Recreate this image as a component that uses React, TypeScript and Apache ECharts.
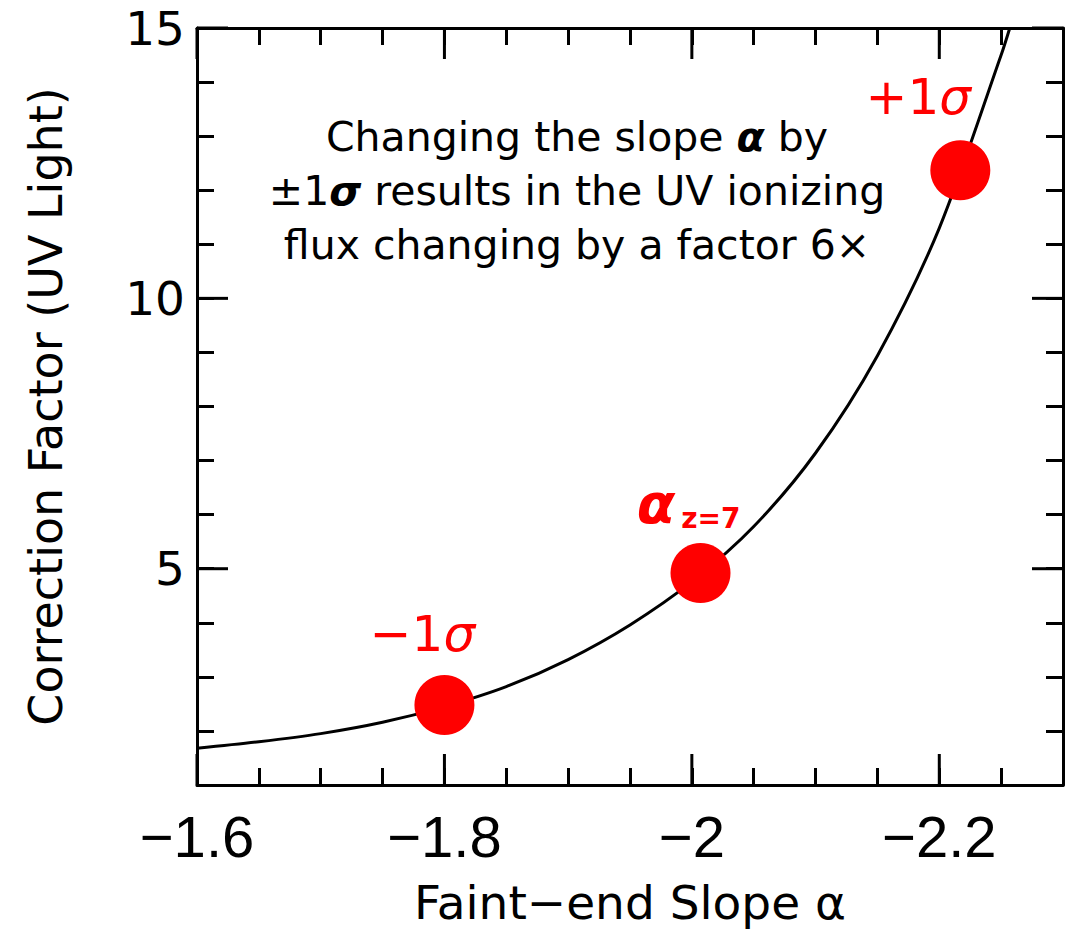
import React, { useEffect, useRef } from "react";
import * as echarts from "echarts";

// ---- data ----
const curveAlpha = [-1.6, -1.65, -1.7, -1.75, -1.8, -1.85, -1.9, -1.95, -2.0, -2.05, -2.1, -2.15, -2.2, -2.25, -2.257];
const curveFactor = [1.68, 1.8, 1.95, 2.16, 2.45, 2.82, 3.32, 3.96, 4.76, 5.78, 7.14, 8.94, 11.3, 14.5, 15.0];

const pointAlpha = [-1.8, -2.007, -2.217];
const pointFactor = [2.48, 4.92, 12.37];
const pointNames = ["−1σ", "αz=7", "+1σ"];

const xLabelValues = [-1.6, -1.8, -2.0, -2.2];
const xMajorTicks = [-1.6, -1.8, -2.0, -2.2];
const xMinorTicks = [-1.6, -1.65, -1.7, -1.75, -1.8, -1.85, -1.9, -1.95, -2.0, -2.05, -2.1, -2.15, -2.2, -2.25, -2.3];
const yLabelValues = [5, 10, 15];
const yMajorTicks = [5, 10, 15];
const yMinorTicks = [1, 2, 3, 4, 5, 6, 7, 8, 9, 10, 11, 12, 13, 14, 15];

const X_MIN = -2.3;
const X_MAX = -1.6;
const Y_MIN = 1;
const Y_MAX = 15;

const FONT = "DejaVu Sans";
const MAJOR_LEN = 31;
const MINOR_LEN = 17;

export default function App() {
  const ref = useRef<HTMLDivElement>(null);

  useEffect(() => {
    if (!ref.current) return;
    const chart = echarts.init(ref.current, null, { renderer: "svg" });

    const line = { lineStyle: { color: "#000", width: 3 } };
    const tickStyle = { stroke: "#000", lineWidth: 3 };

    const xBase = (position: string, extra: any = {}) => ({
      type: "value",
      min: X_MIN,
      max: X_MAX,
      inverse: true,
      position,
      axisLine: { show: true, onZero: false, ...line },
      axisTick: { show: true, inside: true, length: MINOR_LEN, customValues: xMinorTicks, lineStyle: { color: "#000", width: 3 } },
      axisLabel: { show: false },
      splitLine: { show: false },
      ...extra,
    });
    const yBase = (position: string, extra: any = {}) => ({
      type: "value",
      min: Y_MIN,
      max: Y_MAX,
      position,
      axisLine: { show: true, onZero: false, ...line },
      axisTick: { show: true, inside: true, length: MINOR_LEN, customValues: yMinorTicks, lineStyle: { color: "#000", width: 3 } },
      axisLabel: { show: false },
      splitLine: { show: false },
      ...extra,
    });

    const fmtX = (v: number) => {
      const a = Math.abs(v);
      const s = Math.abs(a - Math.round(a)) < 1e-9 ? String(Math.round(a)) : a.toFixed(1);
      return "−" + s;
    };

    const labelOffsets: Record<string, number[]> = {
      "−1σ": [-22, -71],
      "αz=7": [-12, -70],
      "+1σ": [-42, -73],
    };
    const labelFormats: Record<string, string> = {
      "−1σ": "{n|−1}{g|σ}",
      "αz=7": "{a|α}{s|z=7}",
      "+1σ": "{n|+1}{g|σ}",
    };

    chart.setOption({
      animation: false,
      backgroundColor: "#fff",
      grid: { left: 197, right: 12, top: 28, bottom: 148, containLabel: false },
      xAxis: [
        xBase("bottom", {
          name: "Faint−end Slope α",
          nameLocation: "middle",
          nameGap: 94,
          nameTextStyle: { fontFamily: FONT, fontSize: 47, color: "#000" },
          axisLabel: {
            show: true,
            customValues: xLabelValues,
            formatter: fmtX,
            fontFamily: "Liberation Sans Narrow, Liberation Sans",
            fontSize: 58,
            color: "#000",
            margin: 22,
          },
        }),
        xBase("top"),
      ],
      yAxis: [
        yBase("left", {
          name: "Correction Factor (UV Light)",
          nameLocation: "middle",
          nameGap: 128,
          nameTextStyle: { fontFamily: FONT, fontSize: 46, color: "#000" },
          axisLabel: {
            show: true,
            customValues: yLabelValues,
            fontFamily: FONT,
            fontSize: 47,
            color: "#000",
            margin: 12,
          },
        }),
        yBase("right"),
      ],
      series: [
        {
          type: "custom",
          xAxisIndex: 0,
          yAxisIndex: 0,
          silent: true,
          clip: false,
          encode: { x: 0, y: 1 },
          data: xMajorTicks.map((v) => [v, Y_MIN]),
          renderItem: (params: any, api: any) => {
            const v = api.value(0);
            const b = api.coord([v, Y_MIN]);
            const t = api.coord([v, Y_MAX]);
            return {
              type: "group",
              children: [
                { type: "line", shape: { x1: b[0], y1: b[1], x2: b[0], y2: b[1] - MAJOR_LEN }, style: tickStyle },
                { type: "line", shape: { x1: t[0], y1: t[1], x2: t[0], y2: t[1] + MAJOR_LEN }, style: tickStyle },
              ],
            };
          },
        },
        {
          type: "custom",
          xAxisIndex: 0,
          yAxisIndex: 0,
          silent: true,
          clip: false,
          encode: { x: 0, y: 1 },
          data: yMajorTicks.map((v) => [X_MAX, v]),
          renderItem: (params: any, api: any) => {
            const v = api.value(1);
            const l = api.coord([X_MAX, v]);
            const r = api.coord([X_MIN, v]);
            return {
              type: "group",
              children: [
                { type: "line", shape: { x1: l[0], y1: l[1], x2: l[0] + MAJOR_LEN, y2: l[1] }, style: tickStyle },
                { type: "line", shape: { x1: r[0], y1: r[1], x2: r[0] - MAJOR_LEN, y2: r[1] }, style: tickStyle },
              ],
            };
          },
        },
        {
          type: "line",
          xAxisIndex: 0,
          yAxisIndex: 0,
          data: curveAlpha.map((a, i) => [a, curveFactor[i]]),
          smooth: 0.3,
          showSymbol: false,
          symbol: "none",
          lineStyle: { color: "#000", width: 3 },
          clip: true,
          z: 2,
        },
        {
          type: "scatter",
          xAxisIndex: 0,
          yAxisIndex: 0,
          symbolSize: 60,
          itemStyle: { color: "#ff0000", opacity: 1 },
          z: 3,
          data: pointAlpha.map((a, i) => ({
            value: [a, pointFactor[i]],
            name: pointNames[i],
            label: {
              show: true,
              position: "inside",
              offset: labelOffsets[pointNames[i]],
              formatter: labelFormats[pointNames[i]],
              color: "#ff0000",
              rich: {
                n: { fontFamily: FONT, fontSize: 50, color: "#ff0000" },
                g: { fontFamily: FONT, fontSize: 50, fontStyle: "italic", color: "#ff0000" },
                a: { fontFamily: FONT, fontSize: 56, fontStyle: "italic", fontWeight: "bold", color: "#ff0000" },
                s: { fontFamily: FONT, fontSize: 28, fontWeight: "bold", color: "#ff0000", verticalAlign: "bottom", padding: [30, 0, 0, 6] },
              },
            },
          })),
        },
      ],
      graphic: [
        {
          type: "text",
          x: 577,
          y: 110,
          z: 10,
          style: {
            text:
              "Changing the slope {b|α} by\n±1{b|σ} results in the UV ionizing\nflux changing by a factor 6×",
            fontFamily: FONT,
            fontSize: 41,
            lineHeight: 54,
            fill: "#000",
            align: "center",
            verticalAlign: "top",
            rich: {
              b: { fontFamily: FONT, fontSize: 41, fontWeight: "bold", fontStyle: "italic", fill: "#000", lineHeight: 54 },
            },
          },
        },
      ],
    });

    return () => chart.dispose();
  }, []);

  return (
    <div
      ref={ref}
      style={{ position: "fixed", left: 0, top: 0, width: 1075, height: 933, background: "#fff" }}
    />
  );
}
